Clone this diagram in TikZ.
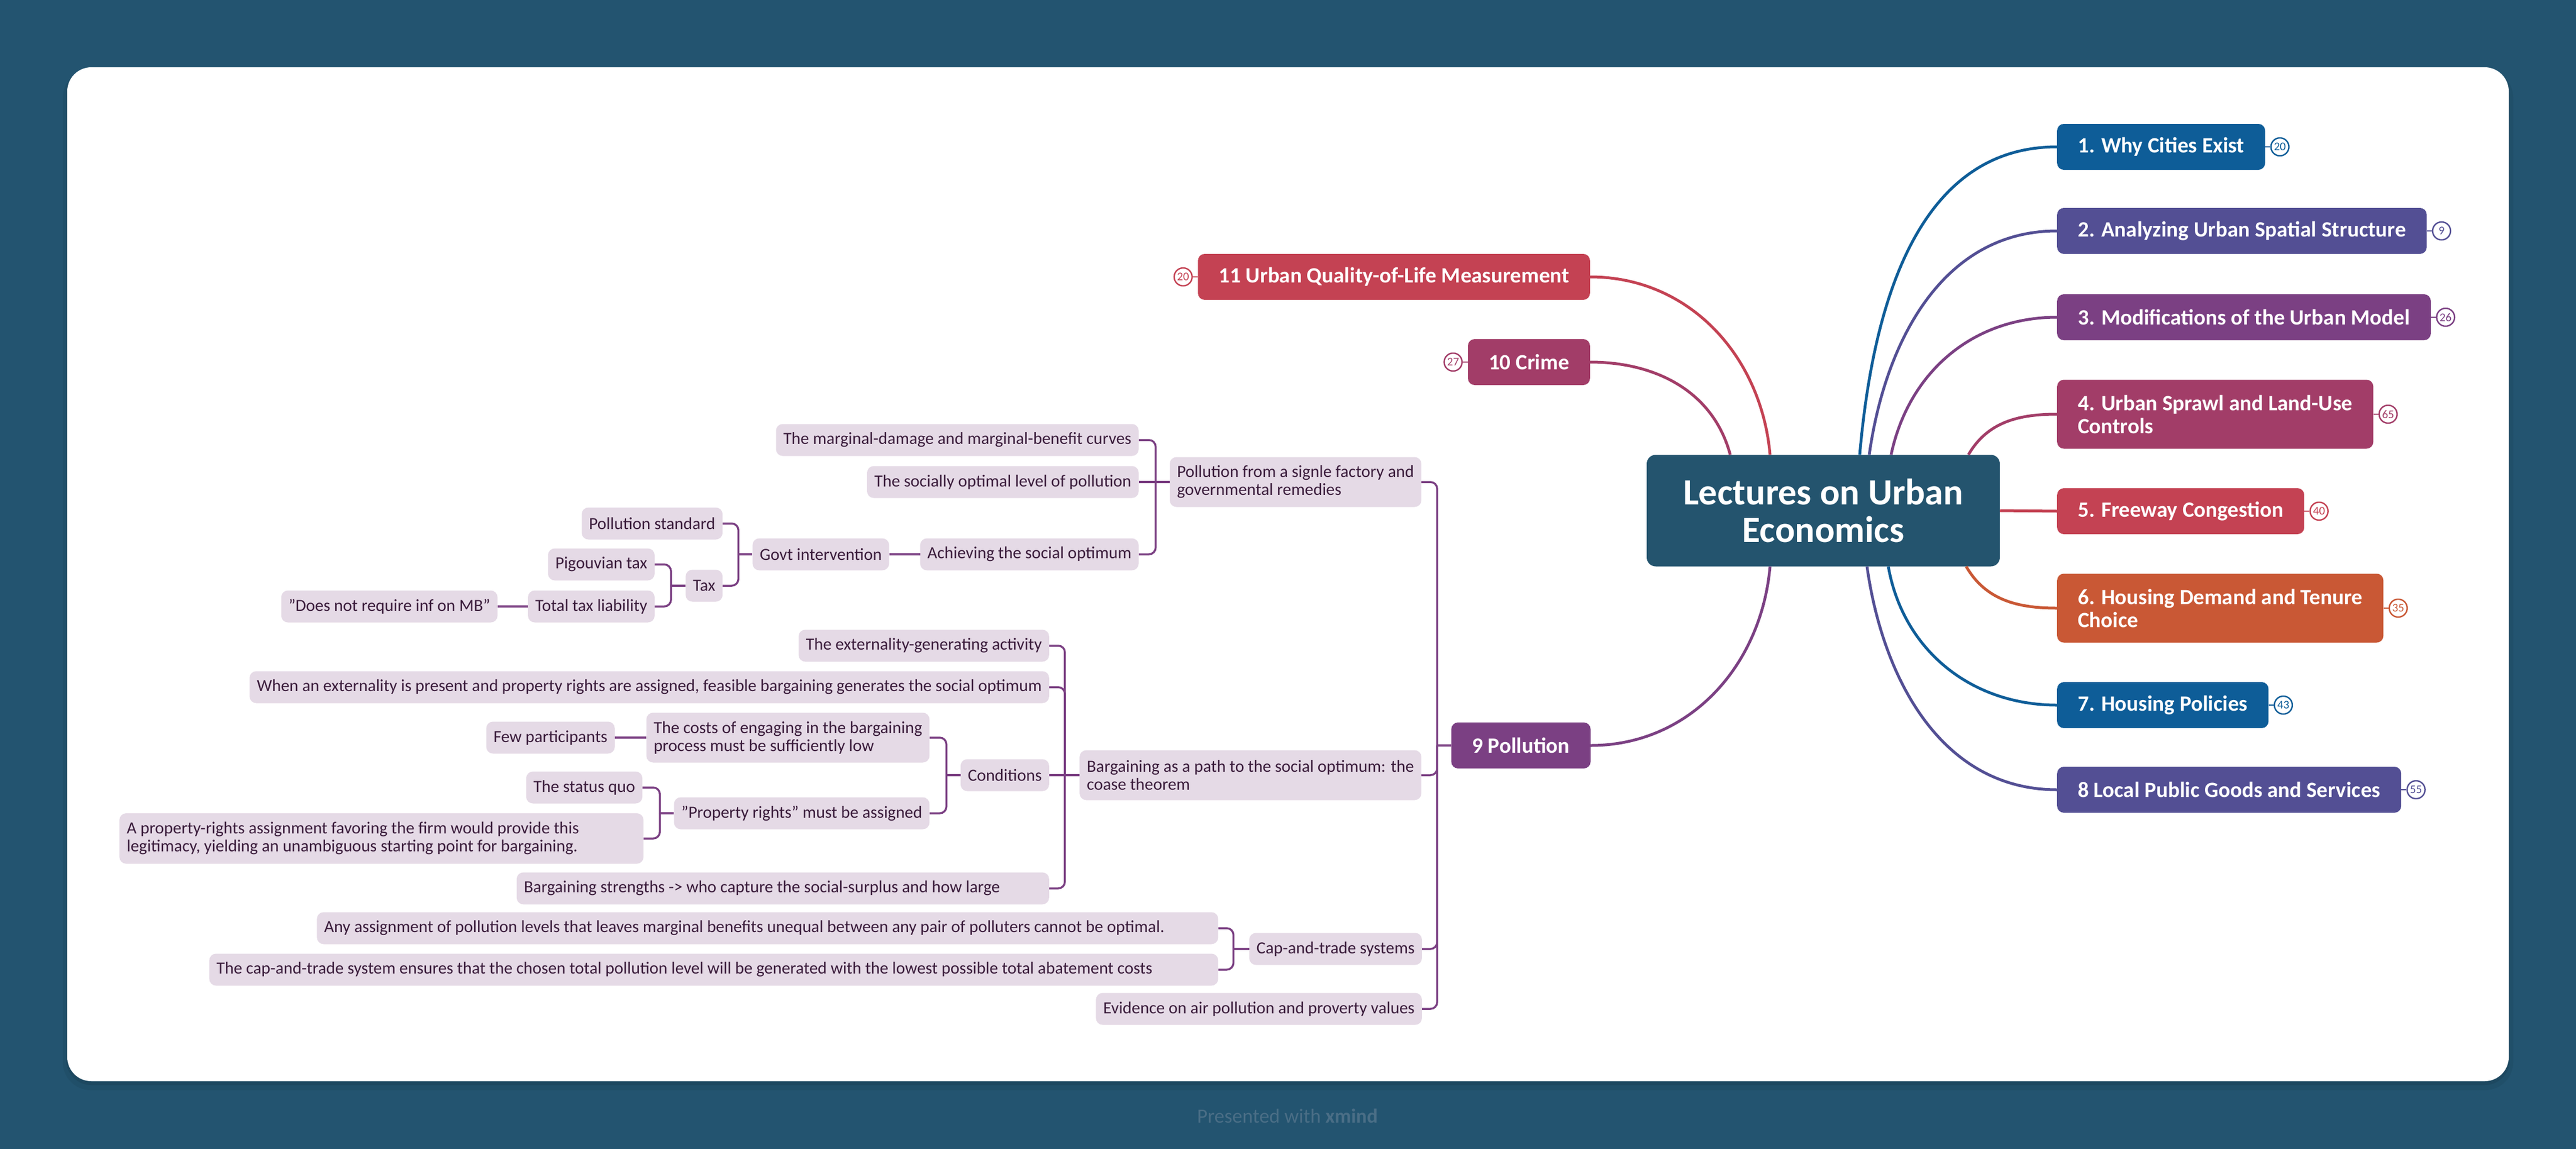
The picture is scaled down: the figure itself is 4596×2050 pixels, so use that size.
\documentclass[tikz,border=0pt]{standalone}
\usepackage{fontspec}
\setmainfont{Carlito}
\usetikzlibrary{calc,positioning}

\definecolor{bgc}{HTML}{235470}
\definecolor{rootc}{HTML}{24546E}
\definecolor{c1}{HTML}{0E5D98}
\definecolor{c2}{HTML}{534F94}
\definecolor{c3}{HTML}{7B4083}
\definecolor{c4}{HTML}{A23D68}
\definecolor{c5}{HTML}{C44253}
\definecolor{c6}{HTML}{C95835}
\definecolor{lav}{HTML}{E5DAE6}
\definecolor{subtext}{HTML}{3A1C3B}
\definecolor{twigc}{HTML}{7B4083}
\definecolor{footc}{HTML}{4A6E86}

\newcommand\fntroot{\fontsize{66}{67}\selectfont\bfseries}
\newcommand\fnttopic{\fontsize{39}{41}\selectfont\bfseries}
\newcommand\fntsub{\fontsize{30.4}{32}\selectfont}
\newcommand\fntbadge{\fontsize{21}{21}\selectfont}
\newcommand\fntfoot{\fontsize{36}{40}\selectfont}

\begin{document}
\begin{tikzpicture}[x=1pt, y=1pt,
  root/.style={fill=rootc, text=white, rounded corners=16, align=center, font=\fntroot, minimum width=630, minimum height=199},
  topic/.style={fill=#1, text=white, rounded corners=12, align=left, font=\fnttopic, inner xsep=37, minimum height=82},
  sub/.style={fill=lav, text=subtext, rounded corners=12, align=flush left, font=\fntsub, inner xsep=13, minimum height=57},
  badge/.style={circle, draw=#1, line width=2.5, fill=white, text=#1, font=\fntbadge, minimum size=32, inner sep=0},
  branch/.style={draw=#1, line width=5},
  twig/.style={draw=twigc, line width=3.5, rounded corners=12}]

\useasboundingbox (0,0) rectangle (4596,-2050);
\fill[bgc] (0,0) rectangle (4596,-2050);
\fill[black, opacity=0.06, rounded corners=50] (112,-124) rectangle (4484,-1945);
\fill[black, opacity=0.08, rounded corners=45] (118,-122) rectangle (4478,-1936);
\fill[white, rounded corners=43] (120,-120) rectangle (4476,-1929);

\node[root] (root) at (3253,-911) {Lectures on Urban\\Economics};

\node[topic=c1, anchor=west] (n1) at (3670,-262) {1. Why Cities Exist};
\node[topic=c2, anchor=west] (n2) at (3670,-412) {2. Analyzing Urban Spatial Structure};
\node[topic=c3, anchor=west] (n3) at (3670,-566) {3. Modifications of the Urban Model};
\node[topic=c4, anchor=west, minimum height=123] (n4) at (3670,-739) {4. Urban Sprawl and Land-Use\\Controls};
\node[topic=c5, anchor=west] (n5) at (3670,-912) {5. Freeway Congestion};
\node[topic=c6, anchor=west, minimum height=123] (n6) at (3670,-1085) {6. Housing Demand and Tenure\\Choice};
\node[topic=c1, anchor=west] (n7) at (3670,-1258) {7. Housing Policies};
\node[topic=c2, anchor=west] (n8) at (3670,-1409) {8 Local Public Goods and Services};
\node[topic=c3, anchor=east] (n9) at (2838,-1330) {9 Pollution};
\node[topic=c4, anchor=east] (n10) at (2837,-646) {10 Crime};
\node[topic=c5, anchor=east] (n11) at (2837,-494) {11 Urban Quality-of-Life Measurement};

\foreach \n/\c/\v in {1/c1/20, 2/c2/9, 3/c3/26, 4/c4/65, 5/c5/40, 6/c6/35, 7/c1/43, 8/c2/55} {
  \node[badge=\c, right=9pt of n\n] (b\n) {\v};
  \draw[\c, line width=2.5] (n\n) -- (b\n);
}
\foreach \n/\c/\v in {10/c4/27, 11/c5/20} {
  \node[badge=\c, left=9pt of n\n] (b\n) {\v};
  \draw[\c, line width=2.5] (n\n) -- (b\n);
}

\draw[branch=c1] ($(root.north)+(65,0)$) to[out=85,in=180] (n1.west);
\draw[branch=c2] ($(root.north)+(82,0)$) to[out=82,in=180] (n2.west);
\draw[branch=c3] ($(root.north)+(121,0)$) to[out=78,in=180] (n3.west);
\draw[branch=c4] ($(root.north)+(259,0)$) to[out=60,in=180] (n4.west);
\draw[branch=c5] (root.east) -- (n5.west);
\draw[branch=c6] ($(root.south)+(255,0)$) to[out=-60,in=180] (n6.west);
\draw[branch=c1] ($(root.south)+(116,0)$) to[out=-80,in=180] (n7.west);
\draw[branch=c2] ($(root.south)+(78,0)$) to[out=-82,in=180] (n8.west);
\draw[branch=c3] ($(root.south)+(-95,0)$) to[out=-95,in=0] (n9.east);
\draw[branch=c4] ($(root.north)+(-166,0)$) to[out=105,in=0] (n10.east);
\draw[branch=c5] ($(root.north)+(-95,0)$) to[out=95,in=0] (n11.east);

\node[sub, anchor=east, minimum height=89] (fac) at ($(n9.west)+(-53,470)$) {Pollution from a signle factory and\\governmental remedies};
\node[sub, anchor=east, minimum height=89] (coase) at ($(n9.west)+(-53,-53)$) {Bargaining as a path to the social optimum: the\\coase theorem};
\node[sub, anchor=east] (captrade) at ($(n9.west)+(-52,-363)$) {Cap-and-trade systems};
\node[sub, anchor=east] (evid) at ($(n9.west)+(-52,-470)$) {Evidence on air pollution and proverty values};

\node[sub, anchor=east] (mdmb) at ($(fac.west)+(-55,75)$) {The marginal-damage and marginal-benefit curves};
\node[sub, anchor=east] (optlvl) at ($(fac.west)+(-55,0)$) {The socially optimal level of pollution};
\node[sub, anchor=east] (achv) at ($(fac.west)+(-55,-129)$) {Achieving the social optimum};
\node[sub, anchor=east] (govt) at ($(achv.west)+(-55,0)$) {Govt intervention};
\node[sub, anchor=east] (pstd) at ($(govt.west)+(-53,55)$) {Pollution standard};
\node[sub, anchor=east] (tax) at ($(govt.west)+(-53,-56)$) {Tax};
\node[sub, anchor=east] (pigou) at ($(tax.west)+(-55,38)$) {Pigouvian tax};
\node[sub, anchor=east] (ttl) at ($(tax.west)+(-55,-37)$) {Total tax liability};
\node[sub, anchor=east] (noinf) at ($(ttl.west)+(-54,0)$) {"Does not require inf on MB"};

\node[sub, anchor=east] (extact) at ($(coase.west)+(-54,231)$) {The externality-generating activity};
\node[sub, anchor=east] (whenext) at ($(coase.west)+(-54,157)$) {When an externality is present and property rights are assigned, feasible bargaining generates the social optimum};
\node[sub, anchor=east] (cond) at ($(coase.west)+(-54,0)$) {Conditions};
\node[sub, anchor=east, text width=924] (strength) at ($(coase.west)+(-54,-202)$) {Bargaining strengths -> who capture the social-surplus and how large};
\node[sub, anchor=east, minimum height=89] (costs) at ($(cond.west)+(-55,67)$) {The costs of engaging in the bargaining\\process must be sufficiently low};
\node[sub, anchor=east] (prop) at ($(cond.west)+(-55,-68)$) {"Property rights" must be assigned};
\node[sub, anchor=east] (few) at ($(costs.west)+(-56,0)$) {Few participants};
\node[sub, anchor=east] (quo) at ($(prop.west)+(-56,46)$) {The status quo};
\node[sub, anchor=east, text width=909, minimum height=90] (legit) at ($(prop.west)+(-54,-45)$) {A property-rights assignment favoring the firm would provide this\\legitimacy, yielding an unambiguous starting point for bargaining.};

\node[sub, anchor=east, text width=1582] (anyass) at ($(captrade.west)+(-55,37)$) {Any assignment of pollution levels that leaves marginal benefits unequal between any pair of polluters cannot be optimal.};
\node[sub, anchor=east, text width=1774] (ctsys) at ($(captrade.west)+(-55,-37)$) {The cap-and-trade system ensures that the chosen total pollution level will be generated with the lowest possible total abatement costs};

\coordinate (t9) at ($(n9.west)+(-25,0)$);
\coordinate (tfac) at ($(fac.west)+(-25,0)$);
\coordinate (tgovt) at ($(govt.west)+(-25,0)$);
\coordinate (ttax) at ($(tax.west)+(-26,0)$);
\coordinate (tcoase) at ($(coase.west)+(-26,0)$);
\coordinate (tcond) at ($(cond.west)+(-25,0)$);
\coordinate (tprop) at ($(prop.west)+(-25,0)$);
\coordinate (tcap) at ($(captrade.west)+(-28,0)$);

\foreach \c in {fac,coase,captrade,evid} \draw[twig] (\c.east) -| (t9);
\draw[twig] (t9) -- (n9.west);
\foreach \c in {mdmb,achv} \draw[twig] (\c.east) -| (tfac);
\draw[twig] (optlvl.east) -- (fac.west);
\draw[twig] (govt.east) -- (achv.west);
\foreach \c in {pstd,tax} \draw[twig] (\c.east) -| (tgovt);
\draw[twig] (tgovt) -- (govt.west);
\foreach \c in {pigou,ttl} \draw[twig] (\c.east) -| (ttax);
\draw[twig] (ttax) -- (tax.west);
\draw[twig] (noinf.east) -- (ttl.west);
\foreach \c in {extact,whenext,strength} \draw[twig] (\c.east) -| (tcoase);
\draw[twig] (cond.east) -- (coase.west);
\foreach \c in {costs,prop} \draw[twig] (\c.east) -| (tcond);
\draw[twig] (tcond) -- (cond.west);
\draw[twig] (few.east) -- (costs.west);
\foreach \c in {quo,legit} \draw[twig] (\c.east) -| (tprop);
\draw[twig] (tprop) -- (prop.west);
\foreach \c in {anyass,ctsys} \draw[twig] (\c.east) -| (tcap);
\draw[twig] (tcap) -- (captrade.west);

\node[font=\fntfoot, text=footc] (foot) at (2297,-1991) {Presented with \textbf{xmind}};

\end{tikzpicture}
\end{document}
